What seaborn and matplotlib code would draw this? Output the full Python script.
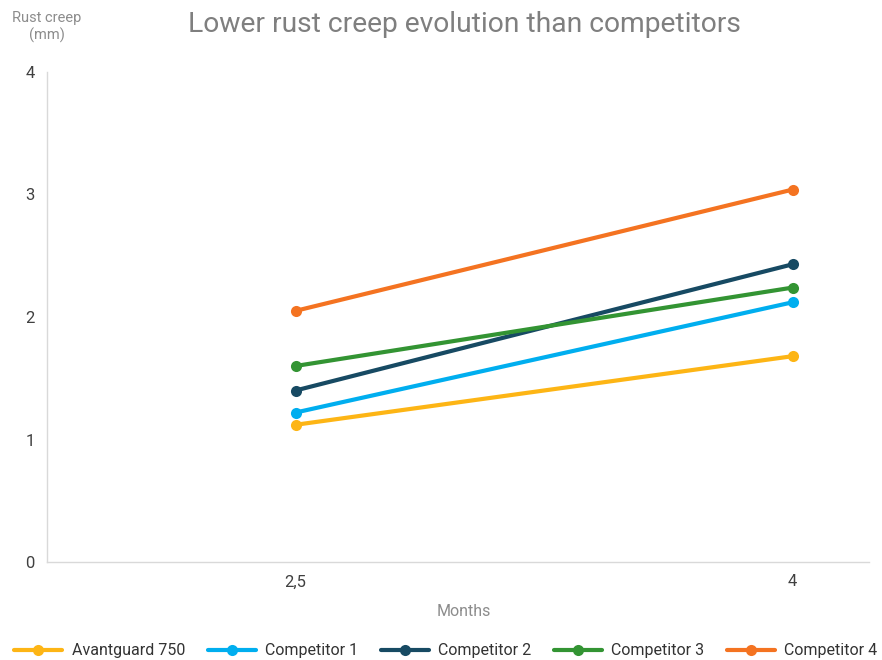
import matplotlib
matplotlib.use('Agg')
import matplotlib.pyplot as plt
import pandas as pd
import seaborn as sns

months = ['2,5', '4']
series = ['Avantguard 750', 'Competitor 1', 'Competitor 2', 'Competitor 3', 'Competitor 4']
avantguard = [1.12, 1.68]
competitor_1 = [1.22, 2.12]
competitor_2 = [1.40, 2.43]
competitor_3 = [1.60, 2.24]
competitor_4 = [2.05, 3.04]
colors = ['#FDB515', '#00AEEF', '#174A63', '#339433', '#F47321']

values = [avantguard, competitor_1, competitor_2, competitor_3, competitor_4]
rows = []
for name, vals in zip(series, values):
    for i, v in enumerate(vals):
        rows.append({'pos': i, 'Months': months[i], 'Rust creep': v, 'Series': name})
df = pd.DataFrame(rows)

sns.set_style('white')
plt.rcParams['font.family'] = ['Roboto', 'DejaVu Sans']

fig = plt.figure(figsize=(8.82, 6.6), dpi=100)
ax = fig.add_axes([47 / 882, 98 / 660, 994 / 882, 490 / 660])

sns.lineplot(data=df, x='pos', y='Rust creep', hue='Series', palette=colors,
             marker='o', markersize=8, markeredgewidth=0, linewidth=3,
             ax=ax, legend=True)

ax.set_xlim(-0.5, 1.5)
ax.set_ylim(0, 4)
ax.set_xticks([0, 1])
ax.set_xticklabels(months)
ax.set_yticks([0, 1, 2, 3, 4])
ax.tick_params(axis='both', length=0, labelsize=12, colors='#404040', pad=9)
ax.set_xlabel('')
ax.set_ylabel('')
for s in ['top', 'right']:
    ax.spines[s].set_visible(False)
for s in ['left', 'bottom']:
    ax.spines[s].set_color('#d9d9d9')
    ax.spines[s].set_linewidth(1)
# the x axis line stops a little short of the right edge
ax.spines['bottom'].set_bounds(-0.5, 1.153)

fig.text(464 / 882, 1 - 611 / 660, 'Months', ha='center', va='center',
         fontsize=11.5, color='#8c8c8c')
fig.text(47 / 882, 1 - 27 / 660, 'Rust creep\n(mm)', ha='center', va='center',
         fontsize=10.5, color='#8c8c8c', linespacing=1.3)
fig.text(464 / 882, 1 - 25 / 660, 'Lower rust creep evolution than competitors',
         ha='center', va='center', fontsize=20.3, color='#7f7f7f')

handles, labels = ax.get_legend_handles_labels()
ax.get_legend().remove()
fig.legend(handles, labels, loc='center left', bbox_to_anchor=(0.0, 1 - 651 / 660),
           ncol=5, frameon=False, fontsize=11.5, handlelength=3.0,
           columnspacing=1.4, handletextpad=0.6, labelcolor='#333333')

plt.savefig('out.png', dpi=100)
